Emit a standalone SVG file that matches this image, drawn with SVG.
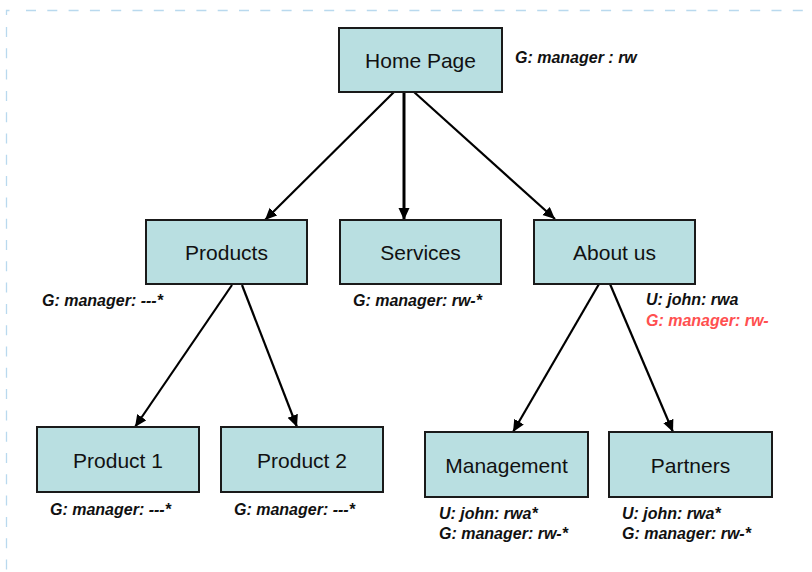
<svg xmlns="http://www.w3.org/2000/svg" width="812" height="572" viewBox="0 0 812 572">
<style>
.frame{fill:none;stroke:#b9d9ee;stroke-width:1.3;stroke-dasharray:10 11.3}
.box{fill:#b9dfe1;stroke:#1a1a1a;stroke-width:2}
.nt{font-family:"Liberation Sans",Arial,sans-serif;font-size:21px;fill:#111;text-anchor:middle}
.lb{font-family:"Liberation Sans",Arial,sans-serif;font-size:16px;font-weight:bold;font-style:italic;fill:#111}
.red{fill:#ff5050}
.conn{stroke:#000;stroke-width:2.2;fill:none;marker-end:url(#ah)}
</style>
<defs>
<marker id="ah" markerUnits="userSpaceOnUse" markerWidth="14" markerHeight="12" refX="12" refY="5.5" orient="auto">
<path d="M0,0 L12,5.5 L0,11 z" fill="#000"/>
</marker>
</defs>
<rect width="812" height="572" fill="#fff"/>
<g id="frame">
<path d="M6.5,15 V10.5 H9.5" fill="none" stroke="#b9d9ee" stroke-width="1.3"/>
<line class="frame" x1="26" y1="10.5" x2="812" y2="10.5"/>
<line class="frame" x1="6.5" y1="27" x2="6.5" y2="572"/>
</g>
<g id="connectors">
<line class="conn" x1="394" y1="92" x2="265" y2="220"/>
<line class="conn" x1="404" y1="92" x2="404" y2="220" style="stroke-width:3"/>
<line class="conn" x1="414" y1="92" x2="555" y2="219"/>
<line class="conn" x1="232" y1="285" x2="135" y2="427"/>
<line class="conn" x1="242" y1="285" x2="297" y2="427"/>
<line class="conn" x1="599" y1="284" x2="513" y2="432"/>
<line class="conn" x1="610" y1="284" x2="673" y2="432"/>
</g>
<g id="home">
<rect class="box" x="339" y="28" width="163" height="64"/>
<text class="nt" x="420.5" y="67.5">Home Page</text>
<text class="lb" x="515" y="63">G: manager : rw</text>
</g>
<g id="products">
<rect class="box" x="146" y="220" width="161" height="64"/>
<text class="nt" x="226.5" y="259.5">Products</text>
<text class="lb" x="42" y="306">G: manager: ---*</text>
</g>
<g id="services">
<rect class="box" x="340" y="220" width="161" height="64"/>
<text class="nt" x="420.5" y="259.5">Services</text>
<text class="lb" x="353" y="306">G: manager: rw-*</text>
</g>
<g id="about">
<rect class="box" x="534" y="220" width="161" height="64"/>
<text class="nt" x="614.5" y="259.5">About us</text>
<text class="lb" x="646" y="305">U: john: rwa</text>
<text class="lb red" x="646" y="326">G: manager: rw-</text>
</g>
<g id="product1">
<rect class="box" x="37" y="427" width="162" height="65"/>
<text class="nt" x="118" y="467.5">Product 1</text>
<text class="lb" x="50" y="515">G: manager: ---*</text>
</g>
<g id="product2">
<rect class="box" x="221" y="427" width="162" height="65"/>
<text class="nt" x="302" y="467.5">Product 2</text>
<text class="lb" x="234" y="515">G: manager: ---*</text>
</g>
<g id="management">
<rect class="box" x="425" y="432" width="163" height="65"/>
<text class="nt" x="506.5" y="472.5">Management</text>
<text class="lb" x="439" y="519">U: john: rwa*</text>
<text class="lb" x="439" y="539">G: manager: rw-*</text>
</g>
<g id="partners">
<rect class="box" x="609" y="432" width="163" height="65"/>
<text class="nt" x="690.5" y="472.5">Partners</text>
<text class="lb" x="622" y="519">U: john: rwa*</text>
<text class="lb" x="622" y="539">G: manager: rw-*</text>
</g>
</svg>
